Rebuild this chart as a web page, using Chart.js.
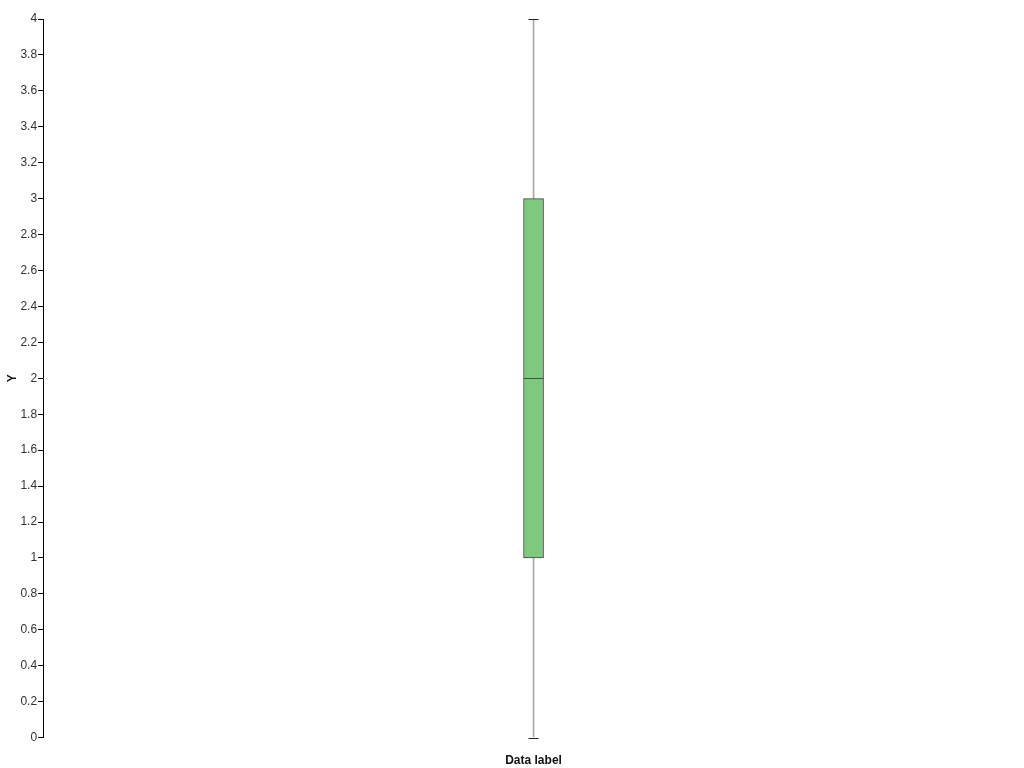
<!DOCTYPE html>
<html>
<head>
<meta charset="utf-8">
<script src="https://cdn.jsdelivr.net/npm/chart.js@4.4.1/dist/chart.umd.min.js"></script>
<style>
  html, body { margin: 0; padding: 0; background: #fff; }
  #wrap { width: 1024px; height: 768px; position: relative; }
</style>
</head>
<body>
<div id="wrap"><canvas id="chart"></canvas></div>
<script>
// box plot values
const categories = ["Data label"];
const minValues = [0];
const q1Values = [1];
const medianValues = [2];
const q3Values = [3];
const maxValues = [4];

const yMin = 0;
const yMax = 4;
const yStep = 0.2;

const fontFamily = "'Liberation Sans', 'DejaVu Sans', sans-serif";

// caps on the whiskers and the median line, placed with the chart's own scales
const boxExtras = {
  id: "boxExtras",
  afterDatasetsDraw(chart) {
    const ctx = chart.ctx;
    const x = chart.scales.x;
    const y = chart.scales.y;
    ctx.save();
    categories.forEach((c, i) => {
      const cx = x.getPixelForValue(i);
      ctx.lineWidth = 1;
      ctx.strokeStyle = "#222";
      [minValues[i], maxValues[i]].forEach((v) => {
        const py = Math.round(y.getPixelForValue(v)) + 0.5;
        ctx.beginPath();
        ctx.moveTo(cx - 5, py);
        ctx.lineTo(cx + 5, py);
        ctx.stroke();
      });
      const my = Math.round(y.getPixelForValue(medianValues[i])) + 0.5;
      ctx.strokeStyle = "#3a5a3a";
      ctx.beginPath();
      ctx.moveTo(cx - 10, my);
      ctx.lineTo(cx + 10, my);
      ctx.stroke();
    });
    ctx.restore();
  }
};

new Chart(document.getElementById("chart"), {
  type: "bar",
  data: {
    labels: categories,
    datasets: [
      {
        label: "box",
        data: q1Values.map((v, i) => [v, q3Values[i]]),
        backgroundColor: "#7fc97f",
        borderColor: "#444",
        borderWidth: 1,
        borderSkipped: false,
        barThickness: 20,
        grouped: false,
        order: 1
      },
      {
        label: "whisker",
        data: minValues.map((v, i) => [v, maxValues[i]]),
        backgroundColor: "#aaaaaa",
        borderWidth: 0,
        barThickness: 1,
        grouped: false,
        order: 2
      }
    ]
  },
  options: {
    responsive: true,
    maintainAspectRatio: false,
    animation: false,
    layout: { padding: { top: 19, right: 0, bottom: -8, left: 5 } },
    plugins: {
      legend: { display: false },
      tooltip: { enabled: false }
    },
    scales: {
      x: {
        grid: { display: false },
        border: { display: false },
        ticks: {
          color: "#111",
          padding: 8,
          font: { family: fontFamily, size: 12, weight: "bold" }
        }
      },
      y: {
        min: yMin,
        max: yMax,
        ticks: {
          stepSize: yStep,
          color: "#333",
          padding: 1,
          font: { family: fontFamily, size: 12 },
          callback: (v) => Math.round(v * 10) / 10
        },
        grid: {
          drawOnChartArea: false,
          drawTicks: true,
          tickLength: 5,
          color: "#000"
        },
        border: { display: true, color: "#000", width: 1 },
        title: {
          display: true,
          text: "Y",
          color: "#111",
          padding: 0,
          font: { family: fontFamily, size: 12, weight: "bold" }
        }
      }
    }
  },
  plugins: [boxExtras]
});
</script>
</body>
</html>
